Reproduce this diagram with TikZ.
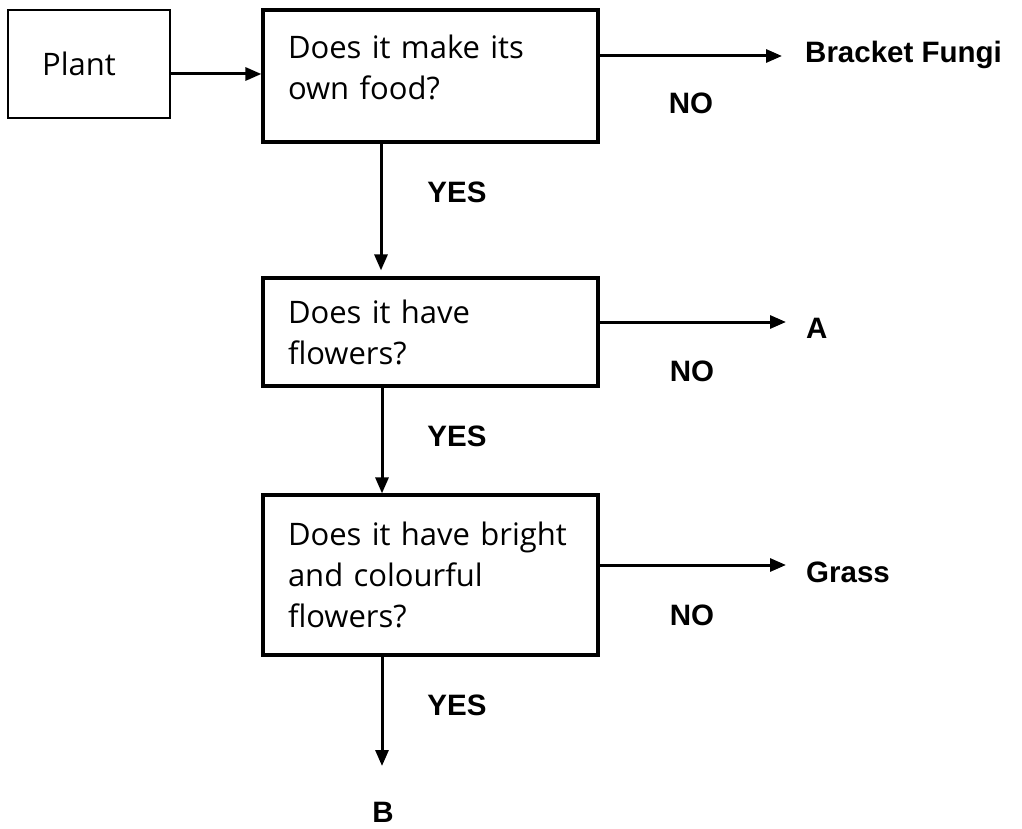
\documentclass[tikz,border=0pt]{standalone}
\usepackage{fontspec}
\setmainfont{Liberation Sans}
\newfontfamily\boxfont{Open Sans}
\usetikzlibrary{arrows.meta}
\tikzset{
  qbox/.style={draw, line width=3.2pt, rectangle, minimum width=335pt, inner sep=0pt,
    text width=285pt, align=left, font=\boxfont\fontsize{31}{41}\selectfont},
  plantbox/.style={draw, line width=2.2pt, rectangle, minimum width=162pt, minimum height=108pt,
    inner sep=0pt, font=\boxfont\fontsize{31}{39}\selectfont},
  arr/.style={line width=3pt, -{Triangle[length=16pt,width=13pt]}},
  lbl/.style={font=\bfseries\fontsize{29.5}{34}\selectfont, inner sep=0pt},
}
\begin{document}
\begin{tikzpicture}[x=1pt,y=-1pt]
\useasboundingbox (0,0) rectangle (1022,829);
\node[plantbox] (plant) at (89,64) {\hspace*{-20pt}Plant};
\node[qbox, minimum height=132pt, text depth=58pt] (q1) at (430.5,76) {Does it make its\\own food?};
\node[qbox, minimum height=108pt] (q2) at (430.5,332) {Does it have\\flowers?};
\node[qbox, minimum height=160pt] (q3) at (430.5,575) {Does it have bright\\and colourful\\flowers?};
\coordinate (xv1) at (381,0);
\coordinate (xv2) at (382,0);
\coordinate (e1) at (782,56);
\coordinate (e2) at (786,322);
\coordinate (e3) at (786,565);
\coordinate (eb) at (382,766);
\node[lbl, anchor=west] (fungi) at (805,55) {Bracket Fungi};
\node[lbl, anchor=west] (a) at (806,328) {A};
\node[lbl, anchor=west] (grass) at (806,572) {Grass};
\node[lbl] (b) at (383,812) {B};
\node[lbl] (no1) at (691,103) {NO};
\node[lbl] (no2) at (692,371) {NO};
\node[lbl] (no3) at (692,615) {NO};
\node[lbl] (yes1) at (457,192) {YES};
\node[lbl] (yes2) at (457,436) {YES};
\node[lbl] (yes3) at (457,705) {YES};
\draw[arr] ([yshift=-10pt]plant.east) -- ([yshift=-10pt]plant.east -| q1.west);
\draw[arr] (q1.south -| xv1) -- ([yshift=6pt]q2.north -| xv1);
\draw[arr] (q2.south -| xv2) -- (q3.north -| xv2);
\draw[arr] (q3.south -| xv2) -- (eb);
\draw[arr] (q1.east |- e1) -- (e1);
\draw[arr] (q2.east |- e2) -- (e2);
\draw[arr] (q3.east |- e3) -- (e3);
\end{tikzpicture}
\end{document}
